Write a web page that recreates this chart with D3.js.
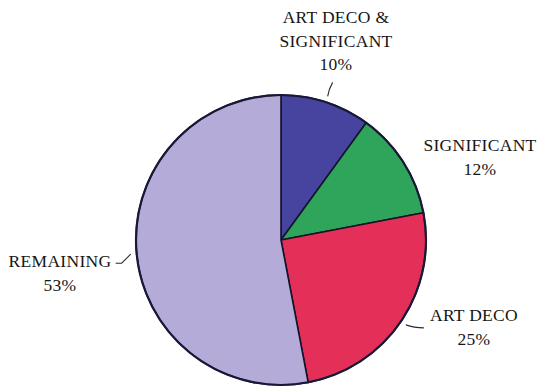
<!DOCTYPE html>
<html>
<head>
<meta charset="utf-8">
<script src="https://cdn.jsdelivr.net/npm/d3@7"></script>
<style>
  html, body { margin: 0; padding: 0; background: #ffffff; }
  svg { display: block; }
  text { font-family: "Liberation Serif", "DejaVu Serif", serif; fill: #161616; }
</style>
</head>
<body>
<svg id="chart" width="541" height="390"></svg>
<script>
// Building categories and their share of the total (percent)
const categories = ["ART DECO & SIGNIFICANT", "SIGNIFICANT", "ART DECO", "REMAINING"];
const shares = [10, 12, 25, 53];
const labelLines = [["ART DECO &", "SIGNIFICANT"], ["SIGNIFICANT"], ["ART DECO"], ["REMAINING"]];
const sliceColors = ["#46449f", "#2fa55c", "#e42f58", "#b5abd8"];

// Label placement: text anchor point and the leader line shape
// (offsets measured from the point just outside the slice's mid-angle)
const labelLayout = [
  { x: 336, y: 23, leader: { kind: "curve", pts: [[1, -7], [5, -14]] } },
  { x: 480, y: 151, leader: null },
  { x: 474, y: 321, leader: { kind: "curve", pts: [[8, 3], [18, 3]] } },
  { x: 60,  y: 267, leader: { kind: "elbow", pts: [[-9, 9], [-15, 9]] } }
];

const width = 541, height = 390;
const cx = 281, cy = 240, radius = 145;
const lineGap = 23.5;

const svg = d3.select("#chart");
const g = svg.append("g").attr("transform", `translate(${cx},${cy})`);

const data = categories.map((c, i) => ({ name: c, value: shares[i], i }));

const pie = d3.pie().sort(null).value(d => d.value).startAngle(0).endAngle(2 * Math.PI);
const arc = d3.arc().innerRadius(0).outerRadius(radius);
const arcs = pie(data);

// Slices
g.selectAll("path.slice")
  .data(arcs)
  .enter().append("path")
  .attr("class", "slice")
  .attr("d", arc)
  .attr("fill", d => sliceColors[d.data.i])
  .attr("stroke", "#14142a")
  .attr("stroke-width", 1.6)
  .attr("stroke-linejoin", "round");

// Outer rim
g.append("circle")
  .attr("r", radius)
  .attr("fill", "none")
  .attr("stroke", "#1a1838")
  .attr("stroke-width", 2.2);

// Leader lines from just outside each slice's mid-angle
arcs.forEach(a => {
  const lay = labelLayout[a.data.i];
  if (!lay.leader) return;
  const mid = (a.startAngle + a.endAngle) / 2;
  const sx = cx + Math.sin(mid) * (radius + 6);
  const sy = cy - Math.cos(mid) * (radius + 6);
  const [p1, p2] = lay.leader.pts;
  const path = d3.path();
  path.moveTo(sx, sy);
  if (lay.leader.kind === "elbow") {
    path.lineTo(sx + p1[0], sy + p1[1]);
    path.lineTo(sx + p2[0], sy + p2[1]);
  } else {
    path.quadraticCurveTo(sx + p1[0], sy + p1[1], sx + p2[0], sy + p2[1]);
  }
  svg.append("path")
    .attr("d", path.toString())
    .attr("fill", "none")
    .attr("stroke", "#2a2a2a")
    .attr("stroke-width", 1.1);
});

// Category labels with percentages
data.forEach(d => {
  const lay = labelLayout[d.i];
  const lines = labelLines[d.i].concat([d.value + "%"]);
  const t = svg.append("text")
    .attr("text-anchor", "middle")
    .attr("font-size", 17.5)
    .attr("letter-spacing", 0.3);
  lines.forEach((ln, k) => {
    t.append("tspan")
      .attr("x", lay.x)
      .attr("y", lay.y + k * lineGap)
      .text(ln);
  });
});
</script>
</body>
</html>
